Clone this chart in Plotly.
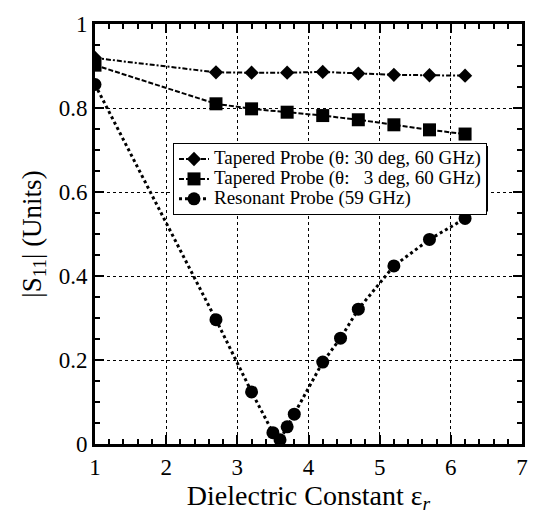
import plotly.graph_objects as go

x_taper = [1, 2.7, 3.2, 3.7, 4.2, 4.7, 5.2, 5.7, 6.2]
y_taper30 = [0.919, 0.885, 0.884, 0.884, 0.886, 0.882, 0.879, 0.878, 0.877]
y_taper3 = [0.902, 0.81, 0.798, 0.79, 0.782, 0.772, 0.76, 0.748, 0.738]
x_res = [1, 2.7, 3.2, 3.5, 3.6, 3.7, 3.8, 4.2, 4.45, 4.7, 5.2, 5.7, 6.2]
y_res = [0.856, 0.296, 0.124, 0.027, 0.01, 0.041, 0.071, 0.195, 0.252, 0.321, 0.424, 0.487, 0.537]

names = ["Tapered Probe (θ: 30 deg, 60 GHz)",
         "Tapered Probe (θ:   3 deg, 60 GHz)",
         "Resonant Probe (59 GHz)"]

FONT = "Liberation Serif"


def leg(name):
    return '<span style="font-size:19px">' + name + '</span>'


fig = go.Figure()
fig.add_trace(go.Scatter(x=x_taper, y=y_taper30, name=leg(names[0]), mode="lines+markers",
                         line=dict(color="black", width=2, dash="5px,2px,2px,2px"),
                         marker=dict(symbol="diamond", size=11, color="black")))
fig.add_trace(go.Scatter(x=x_taper, y=y_taper3, name=leg(names[1]), mode="lines+markers",
                         line=dict(color="black", width=2, dash="5px,2px"),
                         marker=dict(symbol="square", size=13, color="black")))
fig.add_trace(go.Scatter(x=x_res, y=y_res, name=leg(names[2]), mode="lines+markers",
                         line=dict(color="black", width=3, dash="3px,3px"),
                         marker=dict(symbol="circle", size=13, color="black")))

axis_common = dict(showline=True, linecolor="black", linewidth=3, mirror="allticks",
                   ticks="inside", ticklen=9, tickwidth=2, tickcolor="black",
                   showgrid=True, gridcolor="black", griddash="dot", gridwidth=1,
                   zeroline=False, tickfont=dict(family=FONT, size=23, color="black"))

fig.update_xaxes(range=[1, 7], dtick=1, tick0=1,
                 minor=dict(ticks="inside", dtick=0.2, ticklen=5, tickwidth=2, tickcolor="black", showgrid=False),
                 title=dict(text="Dielectric Constant ε<sub><i>r</i></sub>", font=dict(family=FONT, size=28, color="black"), standoff=4),
                 **axis_common)
fig.update_yaxes(range=[0, 1], dtick=0.2, tick0=0,
                 minor=dict(ticks="inside", dtick=0.05, ticklen=5, tickwidth=2, tickcolor="black", showgrid=False),
                 title=dict(text="|S<sub>11</sub>| (Units)", font=dict(family=FONT, size=27, color="black"), standoff=10),
                 tickformat="~g",
                 **axis_common)

# legend shadow
fig.add_shape(type="rect", xref="paper", yref="paper",
              x0=(176 - 95) / 427, x1=(488 - 95) / 427, y0=(457 - 213) / 441, y1=(457 - 144) / 441,
              fillcolor="black", line=dict(width=0), layer="below")

fig.update_layout(
    width=540, height=515,
    margin=dict(l=95, r=18, t=16, b=56),
    paper_bgcolor="white", plot_bgcolor="white",
    font=dict(family=FONT, color="black"),
    showlegend=True,
    legend=dict(x=(173 - 95) / 427, y=(457 - 141) / 441, xanchor="left", yanchor="top",
                bgcolor="white", bordercolor="black", borderwidth=1,
                font=dict(family=FONT, size=13, color="black"),
                tracegroupgap=0, itemwidth=30, traceorder="normal"),
)

fig.write_html("out.html")
